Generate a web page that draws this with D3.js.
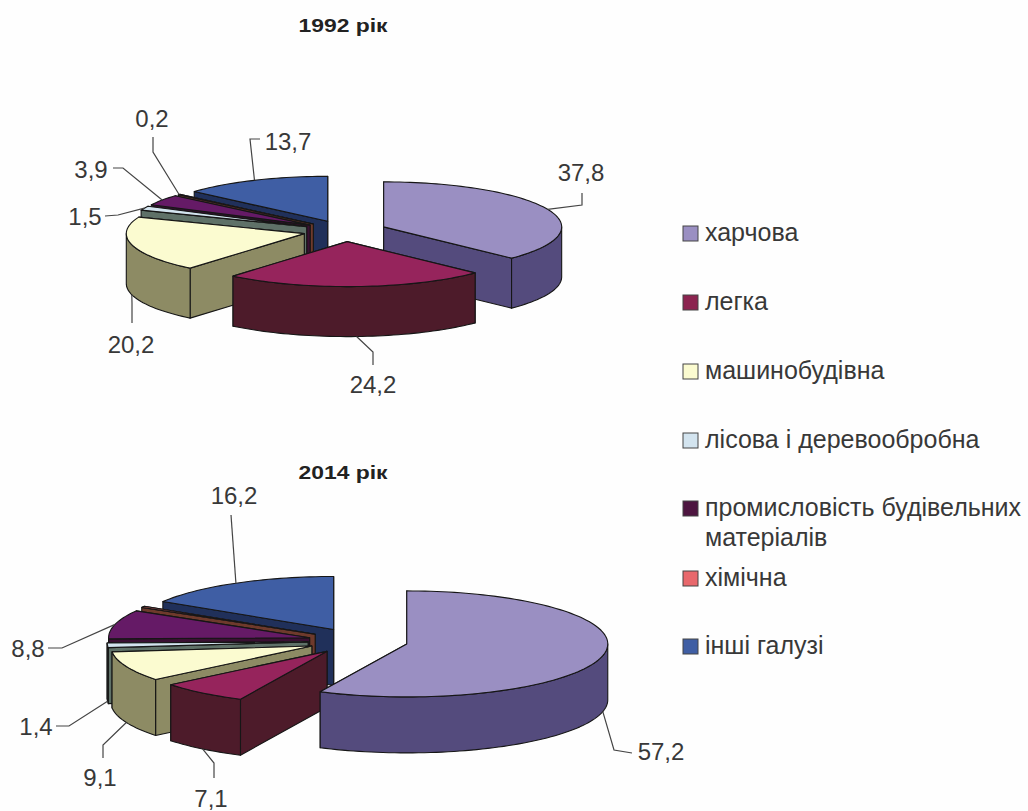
<!DOCTYPE html>
<html>
<head>
<meta charset="utf-8">
<script src="https://cdn.jsdelivr.net/npm/d3@7"></script>
<style>
    html, body { margin: 0; padding: 0; background: #fefefe; }
    text { font-family: "Liberation Sans", Arial, sans-serif; fill: #383838; }
</style>
</head>
<body>
<div id="chart"></div>
<script>
// data
const categories = ["харчова", "легка", "машинобудівна", "лісова і деревообробна", "промисловість будівельних матеріалів", "хімічна", "інші галузі"]
const values1992 = [37.8, 24.2, 20.2, 1.5, 3.9, 0.2, 13.7]
const values2014 = [57.2, 7.1, 9.1, 1.4, 8.8, 0.4, 16.2]
const labels1992 = ["37,8", "24,2", "20,2", "1,5", "3,9", "0,2", "13,7"]
const labels2014 = ["57,2", "7,1", "9,1", "1,4", "8,8", null, "16,2"]

// colours
const topColors = ["#9a8fc2", "#96245c", "#fbfbd0", "#d3e4ef", "#651a66", "#e8686c", "#3f5ea4"]
const sideColors = ["#544b7d", "#4d1b2a", "#8d8b64", "#5f7168", "#3a1033", "#6e3a2c", "#20305a"]
const legendColors = ["#9a8fc2", "#8c2450", "#fbfbd0", "#d3e4ef", "#4d1540", "#e8686c", "#3f5ea4"]

// layout of the two pies, text positions and leader elbows per slice
const layout1992 = {
    title: "1992 рік", titleY: 32,
    cx: 345, cy: 231, rx: 178, ry: 45, depth: 50, explode: 42,
    order: [6, 5, 4, 3, 2, 0, 1],
    text: [[581, 181], [373, 393], [131, 353], [85, 225], [91, 178], [152, 127], [288, 150]],
    elbows: [[[582, 205], [582, 193]], [[373, 352], [373, 365]], [[132, 303], [132, 323]], [[118, 215], [105, 216]],
        [[123, 168], [113, 168]], [[153, 152], [153, 137]], [[250, 139], [260, 139]]]
}
const layout2014 = {
    title: "2014 рік", titleY: 479,
    cx: 358, cy: 641, rx: 201, ry: 53, depth: 56, explode: 50,
    order: [6, 5, 4, 3, 2, 1, 0],
    text: [[661, 760], [211, 807], [100, 786], [36, 735], [28, 657], null, [234, 504]],
    elbows: [[[614, 750], [632, 753]], [[214, 763], [214, 778]], [[103, 745], [103, 758]], [[69, 726], [56, 726]],
        [[62, 648], [48, 648]], null, [[231, 515]]]
}

const legendY = [233, 302, 371, 440, 508, 578, 646]
const legendLines = [["харчова"], ["легка"], ["машинобудівна"], ["лісова і деревообробна"], ["промисловість будівельних", "матеріалів"], ["хімічна"], ["інші галузі"]]

const svg = d3.select("#chart").append("svg")
    .attr("width", 1028)
    .attr("height", 811)

class ExplodedPie {

    constructor(parent, values, labels, config) {
        this.parent = parent
        this.values = values
        this.labels = labels
        this.config = config

        this.initVis()
    }

    initVis() {
        let vis = this

        vis.g = vis.parent.append("g")

        // title, stretched a bit like in the scan
        vis.g.append("text")
            .text(vis.config.title)
            .attr("x", 343)
            .attr("y", vis.config.titleY)
            .attr("text-anchor", "middle")
            .attr("font-weight", "bold")
            .attr("font-size", "18px")
            .attr("textLength", 89)
            .attr("lengthAdjust", "spacingAndGlyphs")
            .style("fill", "#222")

        vis.pie = d3.pie().sort(null).value(d => d)
        vis.line = d3.line()

        vis.wrangleData()
    }

    wrangleData() {
        let vis = this
        let c = vis.config

        vis.slices = vis.pie(vis.values).map((d, i) => {
            let mid = (d.startAngle + d.endAngle) / 2
            return {
                index: i,
                start: d.startAngle,
                end: d.endAngle,
                mid: mid,
                // slice centre pushed out along its mid angle
                x: c.cx + c.explode * Math.sin(mid),
                y: c.cy - c.explode * (c.ry / c.rx) * Math.cos(mid)
            }
        })

        vis.updateVis()
    }

    // point on the ellipse of a slice
    rim(s, angle) {
        let c = this.config
        return [s.x + c.rx * Math.sin(angle), s.y - c.ry * Math.cos(angle)]
    }

    arcPoints(s, from, to) {
        let n = Math.max(2, Math.ceil((to - from) / 0.03))
        return d3.range(n + 1).map(i => this.rim(s, from + (to - from) * i / n))
    }

    updateVis() {
        let vis = this
        let c = vis.config

        let ordered = c.order.map(i => vis.slices[i])

        let groups = vis.g.selectAll(".slice")
            .data(ordered)
            .enter().append("g")
            .attr("class", "slice")
            .attr("stroke", "#161616")
            .attr("stroke-width", 1.1)
            .attr("stroke-linejoin", "round")

        // radial walls first (far one before near one), top face and rim hide the ones facing away
        groups.each(function(s) {
            let group = d3.select(this)
            let centre = [s.x, s.y]

            let walls = [s.start, s.end].map(angle => vis.rim(s, angle))
                .sort((a, b) => a[1] - b[1])

            walls.forEach(p => {
                group.append("path")
                    .attr("d", vis.line([centre, p, [p[0], p[1] + c.depth], [centre[0], centre[1] + c.depth]]) + "Z")
                    .attr("fill", sideColors[s.index])
            })

            // outer wall, only the front half of the ellipse can be seen
            let from = Math.max(s.start, Math.PI / 2)
            let to = Math.min(s.end, Math.PI * 1.5)
            if (to > from) {
                let upper = vis.arcPoints(s, from, to)
                let lower = upper.map(p => [p[0], p[1] + c.depth]).reverse()
                group.append("path")
                    .attr("d", vis.line(upper.concat(lower)) + "Z")
                    .attr("fill", sideColors[s.index])
            }

            group.append("path")
                .attr("d", vis.line([centre].concat(vis.arcPoints(s, s.start, s.end))) + "Z")
                .attr("fill", topColors[s.index])
        })

        // value labels with leader lines
        vis.slices.forEach(s => {
            if (vis.labels[s.index] === null) return

            let start = vis.rim(s, s.mid)
            if (Math.cos(s.mid) < 0) start[1] += c.depth

            vis.g.append("path")
                .attr("d", vis.line([start].concat(c.elbows[s.index])))
                .attr("fill", "none")
                .attr("stroke", "#444")
                .attr("stroke-width", 1.2)

            vis.g.append("text")
                .text(vis.labels[s.index])
                .attr("x", c.text[s.index][0])
                .attr("y", c.text[s.index][1])
                .attr("text-anchor", "middle")
                .attr("font-size", "24px")
        })
    }
}

new ExplodedPie(svg, values1992, labels1992, layout1992)
new ExplodedPie(svg, values2014, labels2014, layout2014)

// legend
let legend = svg.selectAll(".legend-item")
    .data(categories)
    .enter().append("g")
    .attr("class", "legend-item")
    .attr("transform", (d, i) => "translate(683," + legendY[i] + ")")

legend.append("rect")
    .attr("x", 0)
    .attr("y", -7)
    .attr("width", 15)
    .attr("height", 15)
    .attr("fill", (d, i) => legendColors[i])
    .attr("stroke", "#444")
    .attr("stroke-width", 1)

legend.each(function(d, i) {
    legendLines[i].forEach((line, j) => {
        d3.select(this).append("text")
            .text(line)
            .attr("x", 22)
            .attr("y", 8 + j * 30)
            .attr("font-size", "25px")
    })
})
</script>
</body>
</html>
